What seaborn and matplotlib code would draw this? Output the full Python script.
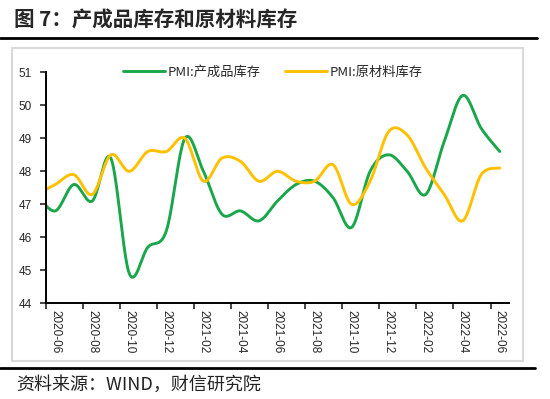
import matplotlib
import numpy as np
import pandas as pd

matplotlib.use("Agg")
import matplotlib.pyplot as plt
import seaborn as sns
from matplotlib.lines import Line2D
from matplotlib.patches import Rectangle

# monthly PMI sub-indices, 2020-05 .. 2022-06 (2020-05 only shows as the clipped lead-in)
months = pd.period_range("2020-05", "2022-06", freq="M").strftime("%Y-%m").tolist()
finished_goods = [47.3, 46.8, 47.6, 47.1, 48.4, 44.9, 45.7, 46.2, 49.0, 48.0, 46.7, 46.8, 46.5,
                  47.1, 47.6, 47.7, 47.2, 46.3, 48.0, 48.5, 48.0, 47.3, 48.9, 50.3, 49.3, 48.6]
raw_materials = [47.3, 47.6, 47.9, 47.3, 48.5, 48.0, 48.6, 48.6, 49.0, 47.7, 48.4, 48.3, 47.7,
                 48.0, 47.7, 47.7, 48.2, 47.0, 47.7, 49.2, 49.1, 48.1, 47.3, 46.5, 47.9, 48.1]
series_names = ["PMI:产成品库存", "PMI:原材料库存"]
colors = ["#1AA64B", "#FFC000"]


def smooth(x, y, n=20):
    # Excel-style smoothed line: cubic Bezier with Catmull-Rom control points
    x = np.asarray(x, float)
    y = np.asarray(y, float)
    px = np.concatenate([[x[0]], x, [x[-1]]])
    py = np.concatenate([[y[0]], y, [y[-1]]])
    t = np.linspace(0, 1, n, endpoint=False)[:, None]
    xs, ys = [], []
    for i in range(1, len(px) - 2):
        p0 = np.array([px[i], py[i]])
        p3 = np.array([px[i + 1], py[i + 1]])
        c1 = p0 + (p3 - np.array([px[i - 1], py[i - 1]])) / 6
        c2 = p3 - (np.array([px[i + 2], py[i + 2]]) - p0) / 6
        pts = ((1 - t) ** 3) * p0 + 3 * ((1 - t) ** 2) * t * c1 + 3 * (1 - t) * t ** 2 * c2 + t ** 3 * p3
        xs.append(pts[:, 0])
        ys.append(pts[:, 1])
    xs.append([x[-1]])
    ys.append([y[-1]])
    return np.concatenate(xs), np.concatenate(ys)


sns.set_style("white")
plt.rcParams["font.family"] = ["Noto Sans CJK SC", "DejaVu Sans"]
num_font = ["Liberation Sans", "DejaVu Sans"]

pos = np.arange(len(months)) - 1

fig = plt.figure(figsize=(5.5, 3.99), dpi=100)
ax = fig.add_axes([0.0836, 0.2398, 0.9255 - 0.0836, 0.8188 - 0.2398])

frames = []
for name, vals in zip(series_names, [finished_goods, raw_materials]):
    sx, sy = smooth(pos, vals)
    frames.append(pd.DataFrame({"x": sx, "y": sy, "series": name}))
df = pd.concat(frames, ignore_index=True)

sns.lineplot(data=df, x="x", y="y", hue="series", palette=colors, sort=False,
             linewidth=2.1, legend=False, ax=ax)

ax.set_xlim(-0.5, 24.5)
ax.set_ylim(44, 51)
ax.set_yticks(range(44, 52))
ax.set_yticklabels([str(v) for v in range(44, 52)], family=num_font, fontsize=8.5)
ax.set_xlabel("")
ax.set_ylabel("")

# tick marks between categories, labels centred on every second month
ax.set_xticks(np.arange(-0.5, 24, 2))
ax.set_xticklabels([])
ax.set_xticks(pos[1::2], minor=True)
ax.set_xticklabels(months[1::2], minor=True, rotation=270, fontsize=8.5, family=num_font)
ax.tick_params(axis="x", which="major", length=4, width=1.2, direction="out", bottom=True)
ax.tick_params(axis="x", which="minor", length=0, pad=5)
ax.tick_params(axis="y", length=4, width=1.2, direction="out", left=True, pad=6)

for side in ["top", "right"]:
    ax.spines[side].set_visible(False)
for side in ["left", "bottom"]:
    ax.spines[side].set_color("black")
    ax.spines[side].set_linewidth(1.4)

handles = [Line2D([], [], color=c, lw=2.1) for c in colors]
ax.legend(handles, series_names, loc="center", bbox_to_anchor=(0.49, 1.0), ncol=2,
          frameon=False, fontsize=9.5, handlelength=3.2, columnspacing=1.8, handletextpad=0.2)

# report decorations
fig.patches.append(Rectangle((0.0218, 0.0952), 0.929, 0.7857, transform=fig.transFigure,
                             fill=False, edgecolor="#D9D9D9", linewidth=1.5))
fig.add_artist(Line2D([0, 0.976], [0.9048, 0.9048], color="black", lw=2, transform=fig.transFigure))
fig.add_artist(Line2D([0, 0.973], [0.0784, 0.0784], color="black", lw=2, transform=fig.transFigure))
fig.text(0.0255, 0.95, "图 7：产成品库存和原材料库存", fontsize=14.8, fontweight="bold",
         va="center", ha="left")
fig.text(0.029, 0.035, "资料来源：WIND，财信研究院", fontsize=13, style="italic",
         va="center", ha="left", color="#222222")

fig.savefig("out.png", dpi=100)
plt.close(fig)
